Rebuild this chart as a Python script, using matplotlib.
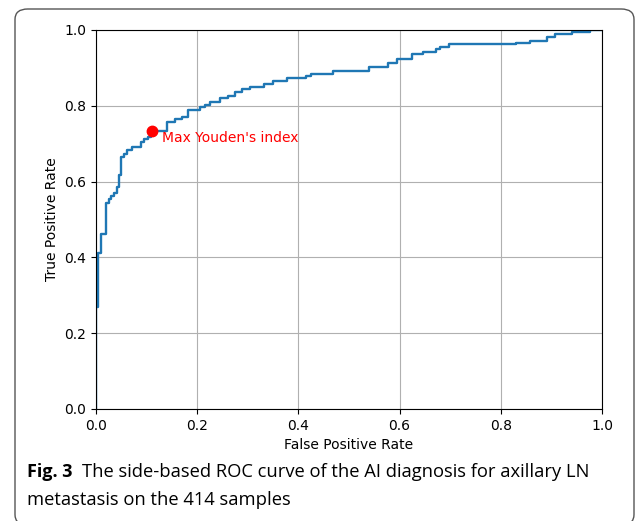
import matplotlib.pyplot as plt
from matplotlib.patches import FancyBboxPatch

# points de la courbe ROC (saut vertical a chaque fpr)
fpr = [0.0, 0.0, 0.004, 0.009, 0.020, 0.025, 0.030, 0.036, 0.041, 0.045,
       0.049, 0.055, 0.062, 0.071, 0.089, 0.095, 0.102, 0.108, 0.111, 0.140,
       0.156, 0.169, 0.182, 0.206, 0.215, 0.225, 0.245, 0.261, 0.275, 0.288,
       0.304, 0.331, 0.349, 0.377, 0.415, 0.424, 0.468, 0.539, 0.578, 0.595,
       0.624, 0.647, 0.672, 0.680, 0.698, 0.830, 0.858, 0.892, 0.907, 0.940,
       0.976, 1.0]
tpr = [0.0, 0.27, 0.411, 0.461, 0.544, 0.553, 0.562, 0.571, 0.585, 0.617,
       0.666, 0.674, 0.682, 0.692, 0.705, 0.712, 0.718, 0.725, 0.734, 0.756,
       0.764, 0.771, 0.789, 0.796, 0.802, 0.811, 0.820, 0.826, 0.835, 0.843,
       0.850, 0.858, 0.866, 0.872, 0.878, 0.884, 0.892, 0.902, 0.912, 0.923,
       0.937, 0.941, 0.950, 0.956, 0.962, 0.965, 0.971, 0.981, 0.989, 0.995,
       1.0, 1.0]
youden_fpr = 0.111
youden_tpr = 0.734

fig = plt.figure(figsize=(6.36, 5.21), dpi=100)
ax = fig.add_axes([0.151, 0.215, 0.7955, 0.7275])

ax.step(fpr, tpr, where='post', color='#1f77b4', lw=1.7)
ax.plot(youden_fpr, youden_tpr, 'o', color='red', ms=7.5)
ax.annotate("Max Youden's index", (youden_fpr, youden_tpr), xytext=(7, -5),
            textcoords='offset points', color='red', fontsize=10, va='center')

ax.set_xlim(0, 1)
ax.set_ylim(0, 1)
ax.set_xticks([0, 0.2, 0.4, 0.6, 0.8, 1.0])
ax.set_yticks([0, 0.2, 0.4, 0.6, 0.8, 1.0])
ax.set_xlabel('False Positive Rate', fontsize=10)
ax.set_ylabel('True Positive Rate', fontsize=10)
ax.grid(True)

# cadre arrondi de la figure
cadre = FancyBboxPatch((15 / 636, -4 / 521), 619 / 636, 516 / 521,
                       boxstyle='round,pad=0,rounding_size=0.02',
                       transform=fig.transFigure, fill=False,
                       edgecolor='#555555', lw=1.0, clip_on=False)
fig.patches.append(cadre)

# legende de la figure
fig.text(27 / 636, 1 - 472 / 521, 'Fig. 3', fontsize=13, fontweight='bold',
         family='Open Sans', va='center')
fig.text(82 / 636, 1 - 472 / 521,
         'The side-based ROC curve of the AI diagnosis for axillary LN',
         fontsize=13.2, family='Open Sans', va='center')
fig.text(27 / 636, 1 - 500 / 521, 'metastasis on the 414 samples',
         fontsize=13.2, family='Open Sans', va='center')

fig.savefig('out.png', dpi=100)
